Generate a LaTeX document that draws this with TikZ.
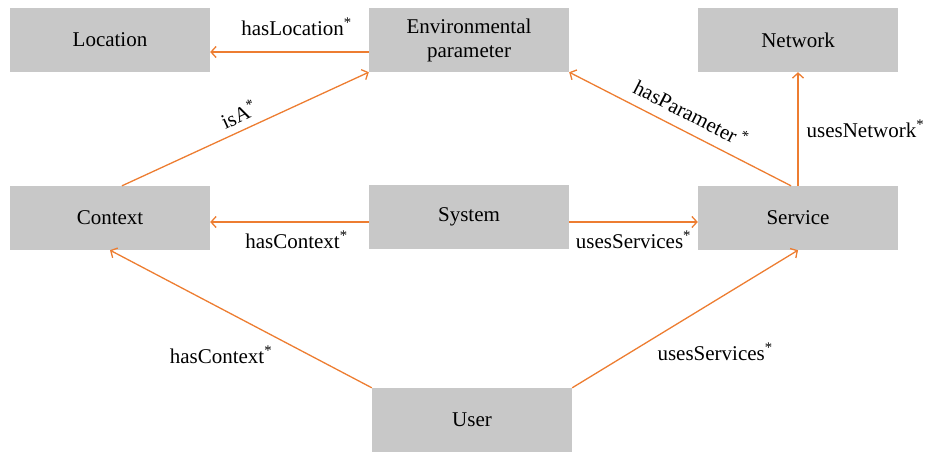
\documentclass[tikz,border=0pt]{standalone}
\usepackage{fontspec}
\setmainfont{Liberation Serif}
\usetikzlibrary{arrows.meta}
\definecolor{boxgray}{HTML}{C8C8C8}
\definecolor{linkorange}{HTML}{ED7D31}
\begin{document}
\begin{tikzpicture}[x=1pt,y=-1pt,
  box/.style={fill=boxgray, minimum width=200pt, minimum height=64pt, inner sep=0pt, align=center, font=\fontsize{21}{24}\selectfont},
  link/.style={draw=linkorange, line width=1.3pt, -{Straight Barb[length=5pt,width=11pt]}},
  lbl/.style={font=\fontsize{21}{24}\selectfont, text=black, inner sep=2pt}]
\useasboundingbox (0,0) rectangle (928,452);
\node[box] (loc) at (110,40) {Location};
\node[box] (env) at (469,40) {Environmental\\parameter};
\node[box] (net) at (798,40) {Network};
\node[box] (ctx) at (110,218) {Context};
\node[box] (sys) at (469,217) {System};
\node[box] (svc) at (798,218) {Service};
\node[box] (usr) at (472,420) {User};

\draw[link] ([yshift=-12pt]env.west) -- node[lbl, yshift=25pt, xshift=7pt] {hasLocation\textsuperscript{*}} ([yshift=-12pt]loc.east);
\draw[link] ([xshift=12pt]ctx.north) -- node[lbl, sloped, above=5pt] {isA\textsuperscript{*}} (env.south west);
\draw[link] ([xshift=-7pt]svc.north) -- node[lbl, pos=0.49, sloped, above=8pt] {hasParameter\,\textsuperscript{*}} (env.south east);
\draw[link] (svc.north) -- node[lbl, right=6pt] {usesNetwork\textsuperscript{*}} (net.south);
\draw[link] ([yshift=-5pt]sys.west) -- node[lbl, yshift=-18pt, xshift=7pt] {hasContext\textsuperscript{*}} ([yshift=-4pt]ctx.east);
\draw[link] ([yshift=-5pt]sys.east) -- node[lbl, yshift=-18pt] {usesServices\textsuperscript{*}} ([yshift=-4pt]svc.west);
\draw[link] (usr.north west) -- node[lbl, pos=0.576, yshift=-46pt] {hasContext\textsuperscript{*}} (ctx.south);
\draw[link] (usr.north east) -- node[lbl, pos=0.633, yshift=-51pt] {usesServices\textsuperscript{*}} (svc.south);
\end{tikzpicture}
\end{document}
